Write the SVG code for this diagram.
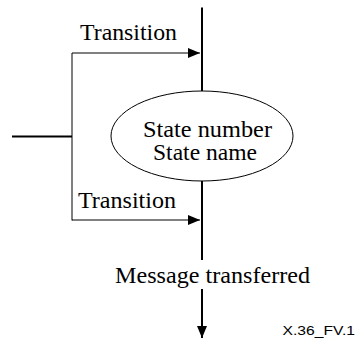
<svg xmlns="http://www.w3.org/2000/svg" width="357" height="343" viewBox="0 0 357 343">
<style>
.serif{font-family:"Liberation Serif","Times New Roman",serif;font-size:23px;fill:#000}
.sans{font-family:"Liberation Sans",Arial,sans-serif;font-size:12px;fill:#000}
.thick{stroke:#000;stroke-width:2;fill:none}
.thin{stroke:#000;stroke-width:1;fill:none}
</style>
<defs>
<marker id="ah" markerWidth="12" markerHeight="10" refX="12" refY="5" orient="auto" markerUnits="userSpaceOnUse">
<path d="M0,0 L12,5 L0,10 Z" fill="#000"/>
</marker>
</defs>
<g id="connectors">
<line class="thick" x1="202" y1="7.5" x2="202" y2="91"/>
<line class="thick" x1="12" y1="136.5" x2="72" y2="136.5"/>
<polyline class="thin" points="72,220.5 72,53 200,53" marker-end="url(#ah)"/>
<polyline class="thin" points="72,220 200,220" marker-end="url(#ah)"/>
<line class="thick" x1="202" y1="181" x2="202" y2="260"/>
<line class="thick" x1="202" y1="289" x2="202" y2="338" marker-end="url(#ah)"/>
<text class="serif" x="80" y="40" textLength="97" lengthAdjust="spacingAndGlyphs">Transition</text>
<text class="serif" x="78" y="208" textLength="98" lengthAdjust="spacingAndGlyphs">Transition</text>
<text class="serif" x="115" y="283" textLength="195" lengthAdjust="spacingAndGlyphs">Message transferred</text>
</g>
<g id="state">
<ellipse cx="202" cy="136" rx="91" ry="45" class="thin"/>
<text class="serif" x="143" y="136.5" textLength="129" lengthAdjust="spacingAndGlyphs">State number</text>
<text class="serif" x="153" y="160" textLength="104" lengthAdjust="spacingAndGlyphs">State name</text>
</g>
<text class="sans" x="282.5" y="335" textLength="72.5" lengthAdjust="spacingAndGlyphs">X.36_FV.1</text>
</svg>
